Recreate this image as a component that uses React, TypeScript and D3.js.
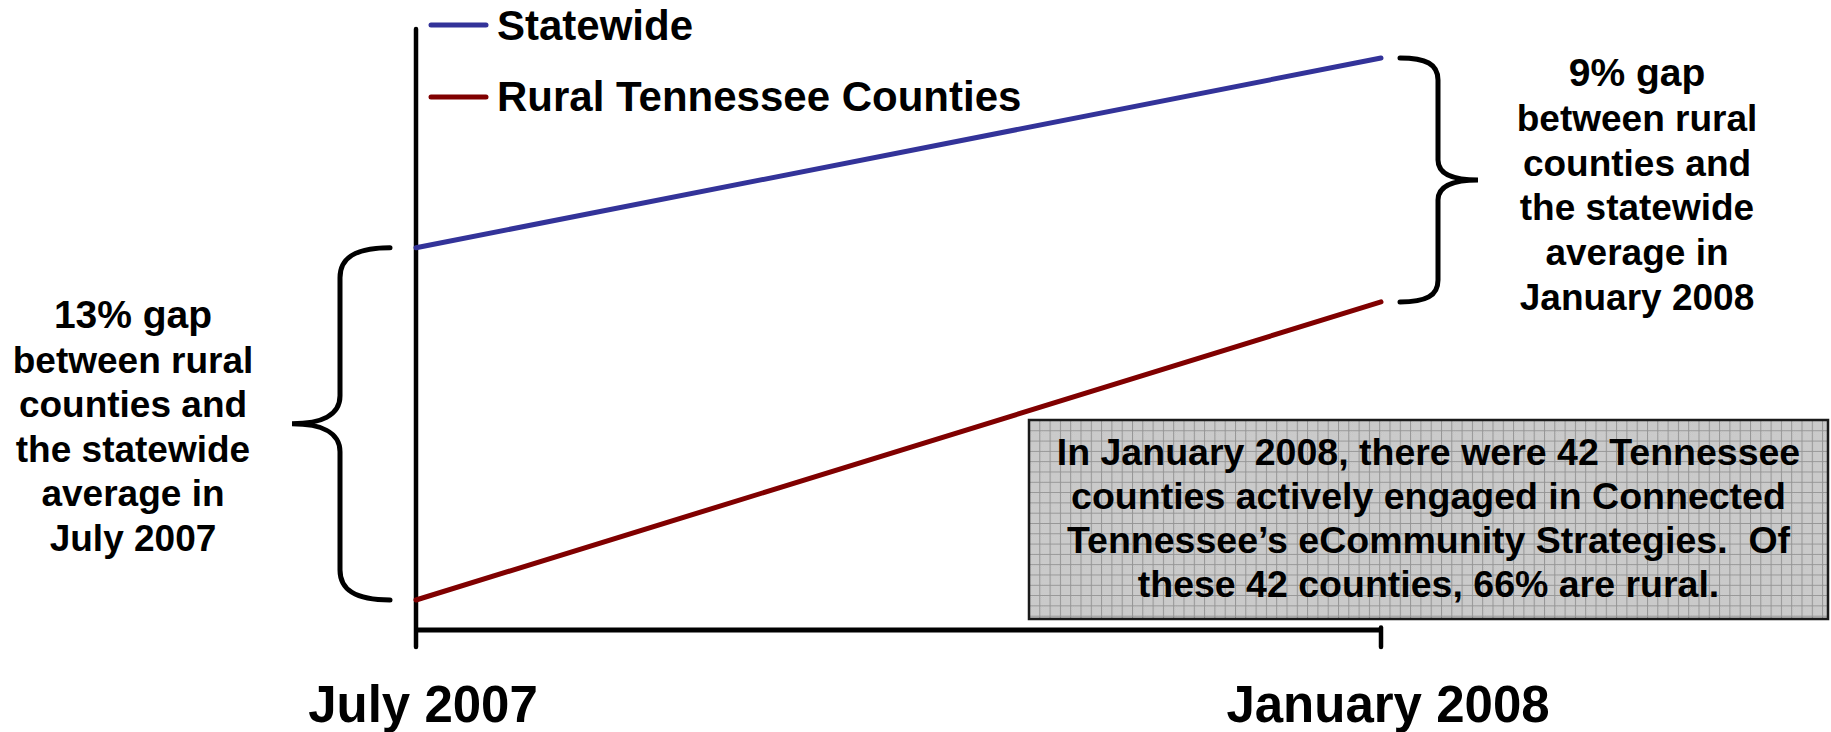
import React from "react";
import * as d3 from "d3";

const periods = ["July 2007", "January 2008"];
const seriesNames = ["Statewide", "Rural Tennessee Counties"];
const seriesColors = ["#333399", "#800000"];
const statewide = [60, 67];
const rural = [47, 58];
const seriesValues = [statewide, rural];

const leftNote = [
  "13% gap",
  "between rural",
  "counties and",
  "the statewide",
  "average in",
  "July 2007",
];
const rightNote = [
  "9% gap",
  "between rural",
  "counties and",
  "the statewide",
  "average in",
  "January 2008",
];
const boxLines = [
  "In January 2008, there were 42 Tennessee",
  "counties actively engaged in Connected",
  "Tennessee\u2019s eCommunity Strategies.  Of",
  "these 42 counties, 66% are rural.",
];

const W = 1831;
const H = 732;
const FONT = "'Liberation Sans', Arial, Helvetica, sans-serif";

export default function App() {
  const x = d3.scalePoint<string>().domain(periods).range([416, 1381]);
  const y = d3.scaleLinear().domain([47, 67]).range([600, 58]);

  const axisY = 630;
  const axisTop = 29;
  const tickBottom = 647;

  const line = d3
    .line<number>()
    .x((_, i) => x(periods[i]) as number)
    .y((d) => y(d));

  // left brace spans the July gap
  const lx0 = x(periods[0]) as number;
  const lTop = y(statewide[0]);
  const lBot = y(rural[0]);
  const lMid = (lTop + lBot) / 2;
  const lArm = lx0 - 26;
  const lV = lx0 - 76;
  const lTip = lx0 - 124;
  const leftBrace =
    `M ${lArm},${lTop} C ${lV + 15},${lTop} ${lV},${lTop + 10} ${lV},${lTop + 30} ` +
    `L ${lV},${lMid - 28} C ${lV},${lMid - 8} ${lV - 20},${lMid} ${lTip},${lMid} ` +
    `C ${lV - 20},${lMid} ${lV},${lMid + 8} ${lV},${lMid + 28} ` +
    `L ${lV},${lBot - 30} C ${lV},${lBot - 10} ${lV + 15},${lBot} ${lArm},${lBot}`;

  const rx0 = x(periods[1]) as number;
  const rTop = y(statewide[1]);
  const rBot = y(rural[1]);
  const rMid = (rTop + rBot) / 2;
  const rArm = rx0 + 19;
  const rV = rx0 + 57;
  const rTip = rx0 + 97;
  const rightBrace =
    `M ${rArm},${rTop} C ${rV - 12},${rTop} ${rV},${rTop + 6} ${rV},${rTop + 22} ` +
    `L ${rV},${rMid - 20} C ${rV},${rMid - 6} ${rV + 16},${rMid} ${rTip},${rMid} ` +
    `C ${rV + 16},${rMid} ${rV},${rMid + 6} ${rV},${rMid + 20} ` +
    `L ${rV},${rBot - 22} C ${rV},${rBot - 6} ${rV - 12},${rBot} ${rArm},${rBot}`;

  const box = { x: 1029, y: 420, w: 799, h: 199 };

  return (
    <svg
      width={W}
      height={H}
      viewBox={`0 0 ${W} ${H}`}
      style={{ position: "absolute", left: 0, top: 0, background: "#fff" }}
      fontFamily={FONT}
      fontWeight="bold"
    >
      <defs>
        <pattern id="dither" width="2" height="2" patternUnits="userSpaceOnUse">
          <rect width="2" height="2" fill="#d2d2d2" />
          <rect width="1" height="1" fill="#c2c2c2" />
          <rect x="1" y="1" width="1" height="1" fill="#c2c2c2" />
        </pattern>
        <pattern
          id="grid"
          x={box.x}
          y={box.y}
          width="10.3"
          height="10.3"
          patternUnits="userSpaceOnUse"
        >
          <rect width="10.3" height="10.3" fill="url(#dither)" />
          <path d="M 0,0.5 H 10.3 M 0.5,0 V 10.3" stroke="#959595" strokeWidth="1" />
        </pattern>
      </defs>

      {/* axes */}
      <line x1={lx0} y1={axisTop} x2={lx0} y2={tickBottom} stroke="#000" strokeWidth={4.5} strokeLinecap="round" />
      <line x1={lx0} y1={axisY} x2={rx0} y2={axisY} stroke="#000" strokeWidth={5} />
      <line x1={rx0} y1={axisY - 2.5} x2={rx0} y2={tickBottom} stroke="#000" strokeWidth={4.5} strokeLinecap="round" />

      {/* series lines */}
      {seriesValues.map((vals, i) => (
        <path
          key={seriesNames[i]}
          d={line(vals) || ""}
          fill="none"
          stroke={seriesColors[i]}
          strokeWidth={5}
          strokeLinecap="round"
        />
      ))}

      {/* legend */}
      {seriesNames.map((name, i) => (
        <g key={name}>
          <line
            x1={431}
            x2={486}
            y1={25 + i * 72}
            y2={25 + i * 72}
            stroke={seriesColors[i]}
            strokeWidth={5}
            strokeLinecap="round"
          />
          <text x={497} y={40 + i * 71} fontSize={42} fill="#000">
            {name}
          </text>
        </g>
      ))}

      {/* braces */}
      <path d={leftBrace} fill="none" stroke="#000" strokeWidth={5} strokeLinecap="round" />
      <path d={rightBrace} fill="none" stroke="#000" strokeWidth={5} strokeLinecap="round" />

      {/* annotations */}
      <text textAnchor="middle" fontSize={37} fill="#000">
        {leftNote.map((t, i) => (
          <tspan key={i} x={133} y={328 + i * 44.6} fontSize={i === 0 ? 39 : 37}>
            {t}
          </tspan>
        ))}
      </text>
      <text textAnchor="middle" fontSize={37} fill="#000">
        {rightNote.map((t, i) => (
          <tspan key={i} x={1637} y={86 + i * 44.8} fontSize={i === 0 ? 39 : 37}>
            {t}
          </tspan>
        ))}
      </text>

      {/* text box */}
      <rect
        x={box.x}
        y={box.y}
        width={box.w}
        height={box.h}
        fill="url(#grid)"
        stroke="#1a1a1a"
        strokeWidth={2.5}
      />
      <text textAnchor="middle" fontSize={37.5} fill="#000" style={{ whiteSpace: "pre" }}>
        {boxLines.map((t, i) => (
          <tspan key={i} x={box.x + box.w / 2} y={465 + i * 44}>
            {t}
          </tspan>
        ))}
      </text>

      {/* x labels */}
      {periods.map((p) => (
        <text
          key={p}
          x={(x(p) as number) + 7}
          y={722}
          textAnchor="middle"
          fontSize={51}
          fill="#000"
        >
          {p}
        </text>
      ))}
    </svg>
  );
}
